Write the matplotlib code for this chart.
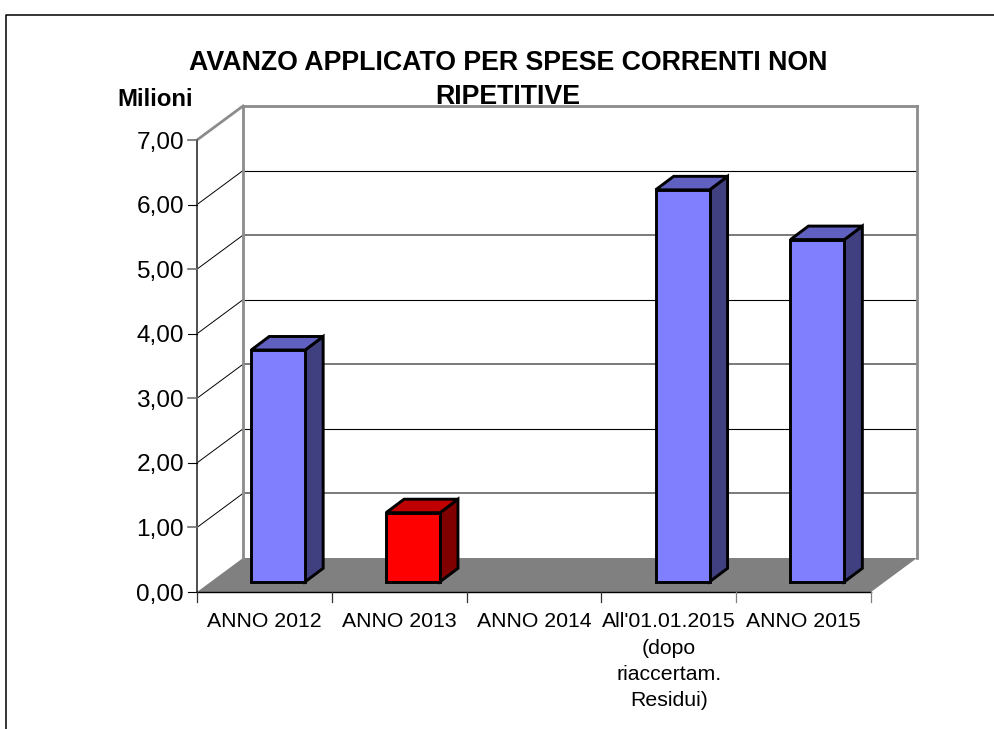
import matplotlib
matplotlib.use("Agg")
import matplotlib.pyplot as plt
from matplotlib.patches import Polygon
from matplotlib.lines import Line2D

plt.rcParams['font.family'] = ['Liberation Sans', 'DejaVu Sans']

categories = ["ANNO 2012", "ANNO 2013", "ANNO 2014",
              "All'01.01.2015\n(dopo\nriaccertam.\nResidui)", "ANNO 2015"]
values = [3.59, 1.07, 0.0, 6.07, 5.30]
bar_colors = ["#8080FF", "#FF0000", "#8080FF", "#8080FF", "#8080FF"]
top_colors = ["#6060C0", "#BF0000", "#6060C0", "#6060C0", "#6060C0"]
side_colors = ["#404080", "#800000", "#404080", "#404080", "#404080"]
y_ticks = [0, 1, 2, 3, 4, 5, 6, 7]
y_labels = ["0,00", "1,00", "2,00", "3,00", "4,00", "5,00", "6,00", "7,00"]
title = "AVANZO APPLICATO PER SPESE CORRENTI NON\nRIPETITIVE"

W, H = 995, 729
fig = plt.figure(figsize=(W / 100, H / 100), dpi=100)
fig.patch.set_facecolor("white")

# plot area: front plane of the 3D box, in pixels
L, R, B, T = 197, 871, 592, 140
ax = fig.add_axes([L / W, 1 - B / H, (R - L) / W, (B - T) / H])
ax.set_xlim(0, 5)
ax.set_ylim(0, 7)
ax.axis("off")

# depth offset of the wall expressed in data units
ux = (R - L) / 5
uy = (B - T) / 7
DX = 46 / ux
DY = 34 / uy
n = len(categories)
GRAY = "#808080"

def poly(pts, fc, ec="none", lw=0, z=1):
    ax.add_patch(Polygon(pts, closed=True, facecolor=fc, edgecolor=ec, linewidth=lw,
                         zorder=z, clip_on=False, joinstyle="miter"))

def line(xs, ys, c, lw, z=2):
    ax.add_line(Line2D(xs, ys, color=c, linewidth=lw, zorder=z, clip_on=False,
                       solid_capstyle="projecting"))

ymax = y_ticks[-1]

# white walls, which hide the bottom edge of the title
poly([(DX, DY), (n + DX, DY), (n + DX, ymax + DY), (DX, ymax + DY)], "white", z=0.5)
poly([(0, 0), (DX, DY), (DX, ymax + DY), (0, ymax)], "white", z=0.5)

# floor
poly([(0, 0), (n, 0), (n + DX, DY), (DX, DY)], GRAY)

# gridlines: side wall + back wall (thin black and soft gray alternate in the reference)
for v in y_ticks[1:-1]:
    line([0, DX], [v, v + DY], "#000000", 0.7)
    if v % 2:
        line([DX, n + DX], [v + DY, v + DY], "#707070", 1.3)
    else:
        line([DX, n + DX], [v + DY, v + DY], "#000000", 0.8)

# wall frame
line([DX, DX], [DY, ymax + DY], "#8C8C8C", 2.0)
line([n + DX, n + DX], [DY, ymax + DY], "#8C8C8C", 2.0)
line([DX, n + DX], [ymax + DY, ymax + DY], "#8C8C8C", 2.0)
line([0, DX], [ymax, ymax + DY], "#8C8C8C", 2.0)

# axes
line([0, 0], [0, ymax], "#404040", 1.3, z=3)
line([0, n], [0, 0], "#000000", 1.0, z=3)
for v, lab in zip(y_ticks, y_labels):
    if v % 2:
        line([-9 / ux, 0], [v, v], "#707070", 1.2, z=3)
    else:
        line([-9 / ux, 0], [v, v], "#000000", 0.8, z=3)
    ax.text(-13 / ux, v - 2.5 / uy, lab, ha="right", va="center", fontsize=17.6, color="#000000")
for i in range(n + 1):
    c = "#808080" if i >= 4 else "#303030"
    line([i, i], [0, -10 / uy], c, 0.9, z=3)

# category labels
for i, lab in enumerate(categories):
    ax.text(i + 0.5, -20 / uy, lab, ha="center", va="top", fontsize=15.3,
            color="#000000", linespacing=1.5)

# bars
bw = 0.4
base_dx = 0.3 * DX
base_dy = 0.3 * DY
bdx = 18 / ux
bdy = 13.5 / uy
for i, v in enumerate(values):
    if v <= 0:
        continue
    x0 = i + 0.5 - bw / 2 + base_dx
    x1 = x0 + bw
    y0 = base_dy
    y1 = y0 + v
    z = 5
    poly([(x1, y0), (x1 + bdx, y0 + bdy), (x1 + bdx, y1 + bdy), (x1, y1)],
         side_colors[i], "#000000", 2.1, z)
    poly([(x0, y1), (x1, y1), (x1 + bdx, y1 + bdy), (x0 + bdx, y1 + bdy)],
         top_colors[i], "#000000", 2.1, z)
    poly([(x0, y0), (x1, y0), (x1, y1), (x0, y1)],
         bar_colors[i], "#000000", 2.1, z)

# titles, drawn beneath the axes so the wall covers them
title_lines = title.split("\n")
fig.text(508 / W, 1 - 63.5 / H, title_lines[0], ha="center", va="center",
         fontsize=19.3, fontweight="bold", color="#000000", zorder=-1)
fig.text(508 / W, 1 - 97 / H, title_lines[1], ha="center", va="center",
         fontsize=19.3, fontweight="bold", color="#000000", zorder=-1)
fig.text(155 / W, 1 - 99.5 / H, "Milioni", ha="center", va="center",
         fontsize=17.2, fontweight="bold", color="#000000", zorder=-1)

# outer chart frame, cut off by the picture on the right and at the bottom
fig.add_artist(Line2D([6.5 / W, 6.5 / W, 1],
                      [0, 1 - 14.5 / H, 1 - 14.5 / H],
                      color="#000000", linewidth=1.1))

fig.savefig("out.png", dpi=100)
